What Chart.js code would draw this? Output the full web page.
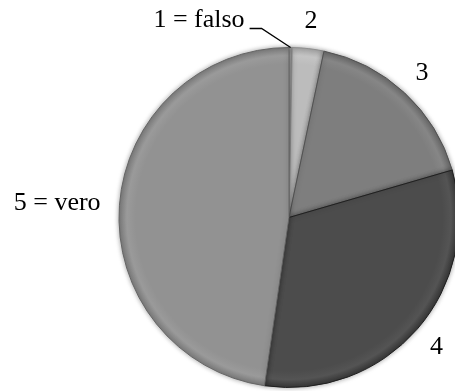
<!DOCTYPE html>
<html>
<head>
<meta charset="utf-8">
<script src="https://cdn.jsdelivr.net/npm/chart.js@4/dist/chart.umd.min.js"></script>
<style>
  html, body { margin: 0; padding: 0; background: #fff; overflow: hidden; }
  #wrap { position: absolute; left: 0; top: 0; width: 470px; height: 391px; }
  #fontprobe { position: absolute; left: -999px; top: 0; font: 26px "Liberation Serif"; }
</style>
</head>
<body>
<span id="fontprobe">1 = falso 2 3 4 5 = vero</span>
<div id="wrap"><canvas id="pie"></canvas></div>
<script>
// Answer categories and their shares (%)
const categories = ['1 = falso', '2', '3', '4', '5 = vero'];
const shares = [0.3, 3.0, 17.2, 31.8, 47.7];
const sliceColors = ['#c6c6c6', '#bcbcbc', '#7e7e7e', '#4c4c4c', '#929292'];

const labelFont = '26px "Liberation Serif", "Times New Roman", serif';

function shade(hex, amt) {
  const n = parseInt(hex.slice(1), 16);
  const c = [(n >> 16) & 255, (n >> 8) & 255, n & 255].map(v =>
    Math.max(0, Math.min(255, Math.round(v + amt))));
  return `rgb(${c[0]},${c[1]},${c[2]})`;
}

// Radial fill giving each slice a soft bevelled rim
function sliceFill(context) {
  const base = sliceColors[context.dataIndex];
  const chart = context.chart;
  const ca = chart.chartArea;
  if (!ca) return base;
  const cx = (ca.left + ca.right) / 2, cy = (ca.top + ca.bottom) / 2;
  const r = Math.min(ca.width, ca.height) / 2;
  const g = chart.ctx.createRadialGradient(cx, cy, 0, cx, cy, r);
  g.addColorStop(0, base);
  g.addColorStop(0.9, base);
  g.addColorStop(0.95, shade(base, 8));
  g.addColorStop(1, shade(base, -22));
  return g;
}

// Soft drop shadow around the pie
const pieShadow = {
  id: 'pieShadow',
  beforeDatasetsDraw(chart) {
    const ctx = chart.ctx;
    ctx.save();
    ctx.shadowColor = 'rgba(0,0,0,0.35)';
    ctx.shadowBlur = 5;
  },
  afterDatasetsDraw(chart) {
    chart.ctx.restore();
  }
};

// Category labels placed just outside the rim, with an optional leader line
const sliceLabels = {
  id: 'sliceLabels',
  afterDatasetsDraw(chart, args, opts) {
    const ctx = chart.ctx;
    const meta = chart.getDatasetMeta(0);
    const names = chart.data.labels;
    ctx.save();
    ctx.font = opts.font;
    ctx.fillStyle = opts.color;
    ctx.strokeStyle = opts.color;
    ctx.lineWidth = 1.3;
    meta.data.forEach((arc, i) => {
      const p = arc.getProps(['x', 'y', 'startAngle', 'endAngle', 'outerRadius'], true);
      const mid = (p.startAngle + p.endAngle) / 2;
      const cos = Math.cos(mid), sin = Math.sin(mid);
      const text = names[i];
      const w = ctx.measureText(text).width;
      const callout = opts.callouts[i];
      if (callout) {
        const rx = p.x + cos * p.outerRadius, ry = p.y + sin * p.outerRadius;
        ctx.textAlign = 'right';
        ctx.textBaseline = 'middle';
        ctx.fillText(text, rx + callout.dx, ry + callout.dy);
        ctx.beginPath();
        ctx.moveTo(rx + callout.line[0][0], ry + callout.line[0][1]);
        ctx.lineTo(rx + callout.line[1][0], ry + callout.line[1][1]);
        ctx.lineTo(rx, ry);
        ctx.stroke();
      } else {
        const d = p.outerRadius + opts.gap;
        const tx = p.x + cos * d + cos * w / 2;
        const ty = p.y + sin * d + sin * opts.textHeight / 2;
        ctx.textAlign = 'center';
        ctx.textBaseline = 'middle';
        ctx.fillText(text, tx, ty);
      }
    });
    ctx.restore();
  }
};

function drawChart() {
  new Chart(document.getElementById('pie'), {
    type: 'pie',
    data: {
      labels: categories,
      datasets: [{
        data: shares,
        backgroundColor: sliceFill,
        borderColor: sliceColors.map(c => shade(c, -45)),
        borderWidth: 1
      }]
    },
    options: {
      responsive: true,
      maintainAspectRatio: false,
      animation: false,
      layout: { padding: { left: 118, right: 10, top: 47, bottom: 3 } },
      plugins: {
        legend: { display: false },
        tooltip: { enabled: false },
        sliceLabels: {
          font: labelFont,
          color: '#000',
          gap: 19,
          textHeight: 17,
          callouts: {
            0: { dx: -46, dy: -27, line: [[-41, -19], [-29, -19]] }
          }
        }
      }
    },
    plugins: [pieShadow, sliceLabels]
  });
}

document.fonts.load(labelFont).then(drawChart, drawChart);
</script>
</body>
</html>
